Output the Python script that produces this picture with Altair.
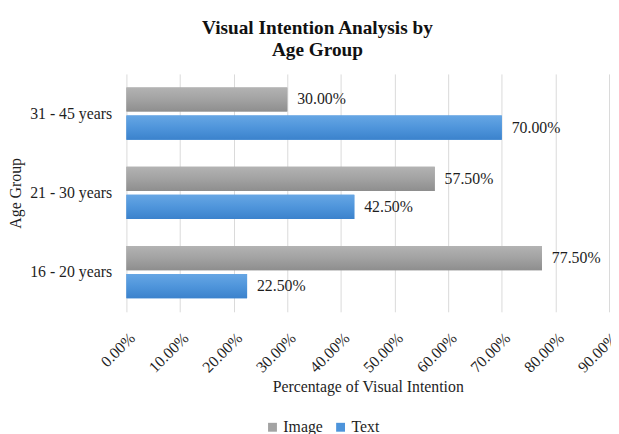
import altair as alt
import pandas as pd

age_groups = ["31 - 45 years", "21 - 30 years", "16 - 20 years"]
series = ["Image", "Text"]
image_pct = [0.300, 0.575, 0.775]
text_pct = [0.700, 0.425, 0.225]
x_ticks = [0.0, 0.1, 0.2, 0.3, 0.4, 0.5, 0.6, 0.7, 0.8, 0.9]
colors = ["#A3A3A3", "#4D94DB"]
gradients = {
    "Image": ["#B3B3B3", "#A2A2A2", "#8E8E8E"],
    "Text": ["#66A6E4", "#4F95DB", "#3B82CC"],
}

rows = []
for g, a, b in zip(age_groups, image_pct, text_pct):
    rows.append({"Age Group": g, "Series": "Image", "Value": a})
    rows.append({"Age Group": g, "Series": "Text", "Value": b})
df = pd.DataFrame(rows)

FONT = "Liberation Serif"
TXT = "#1E1E1E"

y_enc = alt.Y(
    "Age Group:N",
    sort=age_groups,
    scale=alt.Scale(paddingInner=0.34, paddingOuter=0.17),
    axis=alt.Axis(
        title="Age Group",
        titleFont=FONT,
        titleFontSize=16,
        titleFontWeight="normal",
        titleColor=TXT,
        titleX=-104,
        labelFont=FONT,
        labelFontSize=16,
        labelColor=TXT,
        labelPadding=15,
        ticks=False,
        domain=False,
    ),
)
yoff_enc = alt.YOffset("Series:N", sort=series, scale=alt.Scale(paddingInner=0.14))

base = alt.Chart(df).encode(y=y_enc, yOffset=yoff_enc)

x_enc = alt.X(
    "Value:Q",
    scale=alt.Scale(domain=[0, 0.9], nice=False),
    axis=alt.Axis(
        values=x_ticks,
        format=".2%",
        labelAngle=315,
        labelFont=FONT,
        labelFontSize=16,
        labelColor=TXT,
        labelPadding=18,
        grid=True,
        gridColor="#D9D9D9",
        domain=False,
        ticks=False,
        title="Percentage of Visual Intention",
        titleFont=FONT,
        titleFontSize=16,
        titleFontWeight="normal",
        titleColor=TXT,
        titleY=76,
        titleBaseline="middle",
    ),
)

bars = base.mark_bar().encode(
    x=x_enc,
    color=alt.Color(
        "Series:N",
        sort=series,
        scale=alt.Scale(domain=series, range=colors),
        legend=alt.Legend(
            title=None,
            orient="none",
            direction="horizontal",
            legendX=140,
            legendY=350,
            symbolType="square",
            symbolSize=81,
            symbolStrokeWidth=0,
            labelFont=FONT,
            labelFontSize=16,
            labelColor=TXT,
            columnPadding=10,
            labelOffset=3,
        ),
    ),
)

overlays = []
for s in series:
    stops = gradients[s]
    grad = alt.LinearGradient(
        gradient="linear",
        x1=0, y1=0, x2=0, y2=1,
        stops=[
            alt.GradientStop(color=stops[0], offset=0),
            alt.GradientStop(color=stops[1], offset=0.5),
            alt.GradientStop(color=stops[2], offset=1),
        ],
    )
    overlays.append(
        base.transform_filter(alt.datum.Series == s)
        .mark_bar(color=grad)
        .encode(x=alt.X("Value:Q"))
    )

labels = base.mark_text(
    align="left", baseline="middle", dx=10, font=FONT, fontSize=16, color=TXT
).encode(
    x=alt.X("Value:Q"),
    text=alt.Text("Value:Q", format=".2%"),
)

chart = (
    alt.layer(bars, *overlays, labels)
    .properties(
        width=489,
        height=241,
        autosize=alt.AutoSizeParams(type="none"),
        padding={"left": 120, "top": 64, "right": 2, "bottom": 121},
        title=alt.Title(
            ["Visual Intention Analysis by", "Age Group"],
            font=FONT,
            fontSize=19.5,
            fontWeight="bold",
            color="#111111",
            anchor="middle",
            dx=-51,
            offset=14,
            lineHeight=22,
        ),
    )
    .configure_view(stroke=None)
)

chart.save("out.html", embed_options={"renderer": "svg", "actions": False})
